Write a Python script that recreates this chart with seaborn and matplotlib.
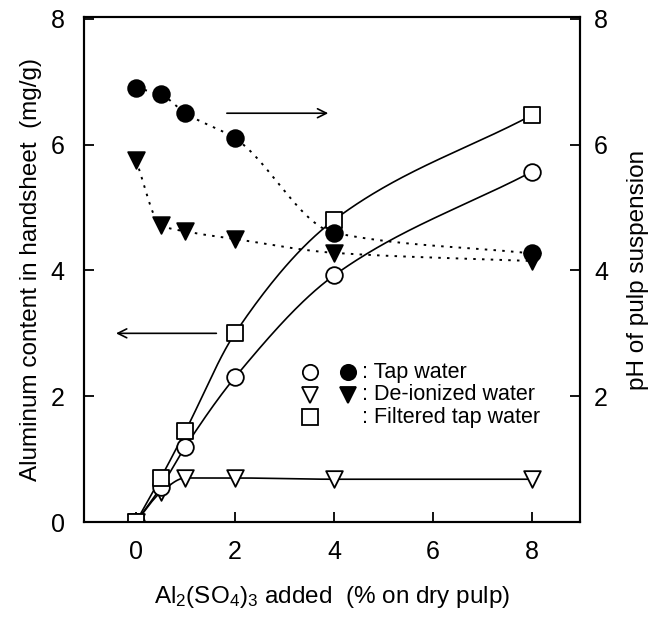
import numpy as np
import pandas as pd
import matplotlib
matplotlib.use("Agg")
import matplotlib.pyplot as plt
import seaborn as sns

# ---- data ----
al_added = [0, 0.5, 1, 2, 4, 8]
al_tap = [0.0, 0.55, 1.2, 2.3, 3.92, 5.57]
al_filtered = [0.0, 0.7, 1.45, 3.0, 4.8, 6.47]
al_deion = [0.0, 0.47, 0.7, 0.7, 0.68, 0.68]
ph_tap = [6.9, 6.8, 6.5, 6.1, 4.6, 4.27]
ph_deion = [5.75, 4.72, 4.62, 4.5, 4.28, 4.15]
xticks = [0, 2, 4, 6, 8]
left_ticks = [0, 2, 4, 6, 8]
right_ticks = [2, 4, 6, 8]
legend_labels = [": Tap water", ": De-ionized water", ": Filtered tap water"]


def pchip(x, y, n=200):
    """Monotone cubic curve through the data points (drawing only)."""
    x = np.asarray(x, float)
    y = np.asarray(y, float)
    h = np.diff(x)
    d = np.diff(y) / h
    m = np.zeros_like(y)
    for k in range(1, len(x) - 1):
        if d[k - 1] * d[k] <= 0:
            m[k] = 0.0
        else:
            w1 = 2 * h[k] + h[k - 1]
            w2 = h[k] + 2 * h[k - 1]
            m[k] = (w1 + w2) / (w1 / d[k - 1] + w2 / d[k])
    m[0] = d[0]
    m[-1] = d[-1]
    xs = np.linspace(x[0], x[-1], n)
    idx = np.clip(np.searchsorted(x, xs) - 1, 0, len(x) - 2)
    t = (xs - x[idx]) / h[idx]
    h00 = 2 * t**3 - 3 * t**2 + 1
    h10 = t**3 - 2 * t**2 + t
    h01 = -2 * t**3 + 3 * t**2
    h11 = t**3 - t**2
    ys = h00 * y[idx] + h10 * h[idx] * m[idx] + h01 * y[idx + 1] + h11 * h[idx] * m[idx + 1]
    return xs, ys


sns.set_theme(style="ticks")
plt.rcParams["font.family"] = ["Liberation Sans", "DejaVu Sans"]
plt.rcParams["mathtext.fontset"] = "custom"
plt.rcParams["mathtext.rm"] = "Liberation Sans"
plt.rcParams["mathtext.it"] = "Liberation Sans"

fig = plt.figure(figsize=(6.57, 6.17), dpi=100)
ax = fig.add_axes([84 / 657, 95 / 617, 496 / 657, 505 / 617])
ax2 = ax.twinx()

lw_solid = 1.2
dot = (0, (1.3, 3.2))
ms = 12

# smooth lines
for yv in (al_tap, al_filtered, al_deion):
    xs, ys = pchip(al_added, yv)
    sns.lineplot(x=xs, y=ys, ax=ax, color="black", lw=lw_solid, estimator=None, sort=False, legend=False)
for yv in (ph_tap, ph_deion):
    xs, ys = pchip(al_added, yv)
    sns.lineplot(x=xs, y=ys, ax=ax2, color="black", lw=1.4, linestyle=dot, estimator=None, sort=False, legend=False)

# markers
def markers(axis, y, marker, face, z):
    sns.scatterplot(x=al_added, y=y, ax=axis, marker=marker, s=ms**2, facecolor=face,
                    edgecolor="black", linewidth=1.3, zorder=z, legend=False)

markers(ax, al_deion, "v", "white", 3)
markers(ax, al_tap, "o", "white", 4)
markers(ax, al_filtered, "s", "white", 5)
markers(ax2, ph_deion, "v", "black", 6)
markers(ax2, ph_tap, "o", "black", 7)

ax.set_xlim(-1.05, 8.97)
ax.set_ylim(0, 8.03)
ax2.set_ylim(0, 8.03)
ax.set_xticks(xticks)
ax.set_yticks(left_ticks)
ax2.set_yticks(right_ticks)
ax.set_xticklabels([str(v) for v in xticks])
ax.set_yticklabels([str(v) for v in left_ticks])
ax2.set_yticklabels([str(v) for v in right_ticks])

for a in (ax, ax2):
    for s in a.spines.values():
        s.set_linewidth(1.5)
        s.set_color("black")
        s.set_visible(True)
ax.tick_params(axis="x", direction="in", length=7, width=1.3, labelsize=18, pad=13, colors="black")
ax.tick_params(axis="y", direction="in", length=7, width=1.3, labelsize=18, pad=14, colors="black")
ax2.tick_params(axis="y", direction="in", length=7, width=1.3, labelsize=18, pad=10, colors="black")

ax.set_xlabel(r"Al$_2$(SO$_4$)$_3$ added  (% on dry pulp)", fontsize=17.5, labelpad=14, color="black")
ax.set_ylabel("Aluminum content in handsheet  (mg/g)", fontsize=17.5, labelpad=6, color="black")
ax2.set_ylabel("pH of pulp suspension", fontsize=17.5, labelpad=14, color="black")

# arrows
ax2.annotate("", xy=(3.94, 6.5), xytext=(1.78, 6.5),
             arrowprops=dict(arrowstyle="->", color="black", lw=1.2, mutation_scale=16))
ax.annotate("", xy=(-0.46, 3.0), xytext=(1.68, 3.0),
            arrowprops=dict(arrowstyle="->", color="black", lw=1.2, mutation_scale=16))

# legend (manual)
rows_y = [0.297, 0.252, 0.207]
leg_marks = [("o", "white", "o", "black"), ("v", "white", "v", "black"), ("s", "white", None, None)]
for ry, (m1, f1, m2, f2), lab in zip(rows_y, leg_marks, legend_labels):
    ax2.plot([0.456], [ry], marker=m1, ms=11, mfc=f1, mec="black", mew=1.3,
             transform=ax2.transAxes, linestyle="none", clip_on=False)
    if m2:
        ax2.plot([0.532], [ry], marker=m2, ms=11, mfc=f2, mec="black", mew=1.3,
                 transform=ax2.transAxes, linestyle="none", clip_on=False)
    ax2.text(0.56, ry, lab, transform=ax2.transAxes, fontsize=15.5, va="center", ha="left", color="black")

fig.savefig("out.png", dpi=100)
